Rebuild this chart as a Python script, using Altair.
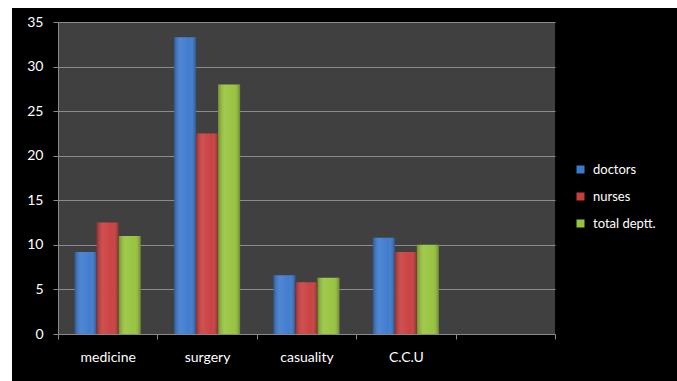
import altair as alt
import pandas as pd

# Staff figures per department
departments = ["medicine", "surgery", "casuality", "C.C.U"]
series = ["doctors", "nurses", "total deptt."]
doctors = [9.2, 33.3, 6.6, 10.8]
nurses = [12.5, 22.5, 5.8, 9.2]
total_deptt = [11.0, 28.0, 6.3, 10.0]
y_ticks = [0, 5, 10, 15, 20, 25, 30, 35]

# the category axis keeps one extra, unlabeled slot on the right
x_domain = departments + [" "]
colors = ["#3b79cd", "#c93c3c", "#96c33b"]

rows = []
for name, vals in zip(series, [doctors, nurses, total_deptt]):
    for dept, v in zip(departments, vals):
        rows.append({"department": dept, "series": name, "value": v})
df = pd.DataFrame(rows)

W, H = 497, 312
PAD = {"left": 58, "top": 22, "right": 677 - 58 - W, "bottom": 381 - 22 - H}
FONT = "Lato"

x_enc = alt.X(
    "department:N",
    scale=alt.Scale(domain=x_domain, paddingInner=0, paddingOuter=0),
    sort=x_domain,
    axis=alt.Axis(
        title=None,
        labelAngle=0,
        tickBand="extent",
        tickSize=5,
        tickColor="#8a8a8a",
        domainColor="#8a8a8a",
        labelColor="white",
        labelFont=FONT,
        labelFontSize=14,
        labelPadding=11,
        grid=False,
    ),
)
xo_enc = alt.XOffset(
    "series:N",
    sort=series,
    scale=alt.Scale(domain=series, paddingInner=0, paddingOuter=0.76),
)
y_enc = alt.Y(
    "value:Q",
    scale=alt.Scale(domain=[0, 35], nice=False),
    axis=alt.Axis(
        title=None,
        values=y_ticks,
        tickSize=5,
        tickColor="#8a8a8a",
        domainColor="#8a8a8a",
        gridColor="#8c8c8c",
        gridWidth=1,
        labelColor="white",
        labelFont=FONT,
        labelFontSize=14,
        labelPadding=10,
    ),
)

bars = alt.Chart(df).mark_bar(size=22).encode(
    x=x_enc,
    xOffset=xo_enc,
    y=y_enc,
    color=alt.Color(
        "series:N",
        sort=series,
        scale=alt.Scale(domain=series, range=colors),
        legend=alt.Legend(
            title=None,
            orient="none",
            legendX=516,
            legendY=141,
            symbolType="square",
            symbolSize=64,
            symbolStrokeWidth=0,
            labelColor="white",
            labelFont=FONT,
            labelFontSize=13,
            labelOffset=6,
            rowPadding=13,
            padding=0,
        ),
    ),
)

# soft shading across each bar for a rounded look
shade = alt.Chart(df).mark_bar(
    size=22,
    fill=alt.Gradient(
        gradient="linear",
        x1=0, x2=1, y1=0, y2=0,
        stops=[
            alt.GradientStop(offset=0, color="rgba(0,0,0,0.25)"),
            alt.GradientStop(offset=0.3, color="rgba(255,255,255,0.10)"),
            alt.GradientStop(offset=0.7, color="rgba(255,255,255,0.03)"),
            alt.GradientStop(offset=1, color="rgba(0,0,0,0.30)"),
        ],
    ),
).encode(x=x_enc, xOffset=xo_enc, y=y_enc)

# white margins along the top and left edges of the canvas
margin_top = alt.Chart(df).mark_rect(color="white").encode(
    x=alt.value(-PAD["left"]), x2=alt.value(W + PAD["right"]),
    y=alt.value(-PAD["top"]), y2=alt.value(-PAD["top"] + 8),
)
margin_left = alt.Chart(df).mark_rect(color="white").encode(
    x=alt.value(-PAD["left"]), x2=alt.value(-PAD["left"] + 12),
    y=alt.value(-PAD["top"]), y2=alt.value(H + PAD["bottom"]),
)

chart = alt.layer(bars, shade, margin_top, margin_left).properties(
    width=W,
    height=H,
    padding=PAD,
    autosize=alt.AutoSizeParams(type="none"),
    background="black",
).configure_view(fill="#404040", stroke=None)

chart.save("out.html", embed_options={"renderer": "svg", "actions": False})
